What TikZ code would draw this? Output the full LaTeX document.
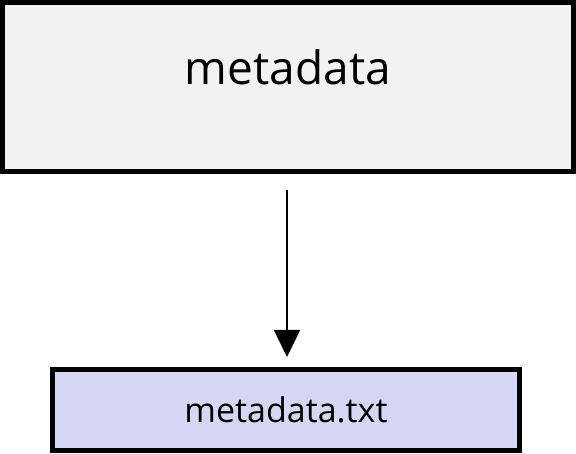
\documentclass[tikz,border=0pt]{standalone}
\usepackage{fontspec}
\setmainfont{Open Sans}
\usetikzlibrary{arrows.meta}
\definecolor{boxgray}{HTML}{F2F2F2}
\definecolor{boxlav}{HTML}{D6D6F5}
\begin{document}
\begin{tikzpicture}[x=1pt,y=1pt,
    bigbox/.style={draw, line width=5pt, fill=boxgray, minimum width=571pt, minimum height=169pt, inner sep=0pt, text depth=40pt, font=\fontsize{46}{54}\selectfont},
    filebox/.style={draw, line width=5pt, fill=boxlav, minimum width=467pt, minimum height=81pt, inner sep=0pt, font=\fontsize{34}{40}\selectfont}]
        \useasboundingbox (0,0) rectangle (576,-454);
        \node [bigbox] (meta) at (288,-87) {metadata};
        \node [filebox] (metatxt) at (286,-410) {metadata.txt};
        \draw [line width=1.5pt, -{Triangle[width=26pt,length=27pt]}, shorten <=16pt, shorten >=10pt] (meta.south -| 287,0) -- (metatxt.north -| 287,0);
    \end{tikzpicture}
\end{document}
